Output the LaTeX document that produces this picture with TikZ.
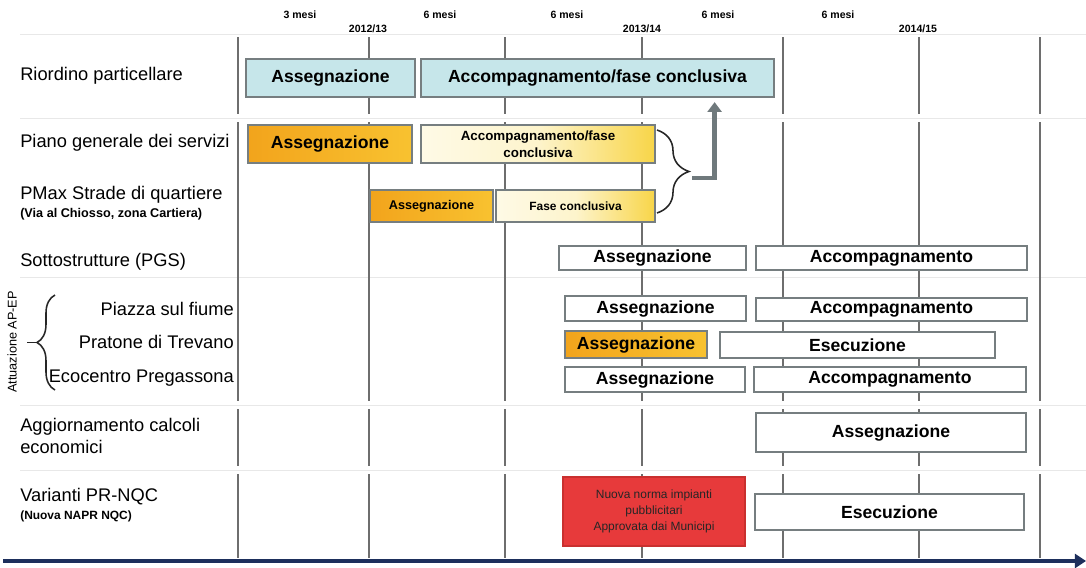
\documentclass[tikz,border=0pt]{standalone}
\usepackage{fontspec}
\setmainfont{Liberation Sans}
\usetikzlibrary{arrows.meta,calc,decorations.pathreplacing}

\definecolor{gridgray}{HTML}{6E6E6E}
\definecolor{boxgray}{HTML}{767E80}
\definecolor{cyanfill}{HTML}{C6E6EA}
\definecolor{orangeA}{HTML}{F2A41C}
\definecolor{orangeB}{HTML}{F8C230}
\definecolor{creamA}{HTML}{FEFAE6}
\definecolor{creamB}{HTML}{F8D548}
\definecolor{creamM}{HTML}{FDF4CC}
\definecolor{redfill}{HTML}{E73A3B}
\definecolor{redline}{HTML}{C9302F}
\definecolor{navy}{HTML}{1D2F5C}
\definecolor{fbgray}{HTML}{6F797C}

\begin{document}
\begin{tikzpicture}[x=0.025cm,y=-0.025cm,
    wh/.style 2 args={minimum width=#1*0.025cm,minimum height=#2*0.025cm},
    bar/.style={draw=boxgray,line width=1.3pt,inner sep=0pt,align=center,
        font=\bfseries\fontsize{12.5}{14}\selectfont},
    cyanbar/.style={bar,fill=cyanfill},
    orangebar/.style={bar,left color=orangeA,right color=orangeB},
    creambar/.style={bar,left color=creamA,right color=creamB,middle color=creamM},
    whitebar/.style={bar,fill=white},
    redbar/.style={bar,fill=redfill,draw=redline,text=black!85,
        font=\fontsize{8.5}{11.5}\selectfont},
    rowlabel/.style={anchor=west,inner sep=0pt,font=\fontsize{13}{16}\selectfont},
    sublabel/.style={anchor=west,inner sep=0pt,font=\bfseries\fontsize{9}{11}\selectfont},
    toplabel/.style={inner sep=0pt,font=\bfseries\fontsize{7.5}{9}\selectfont},
    gridline/.style={draw=gridgray,line width=1.8pt},
    sepline/.style={draw=gray!18,line width=0.6pt},
    bracestyle/.style={draw=black!85,line width=1.1pt},
    feedback/.style={draw=fbgray,line width=3.5pt,-{Triangle[length=7pt,width=10pt]},shorten >=3pt},
    timeline/.style={draw=navy,line width=3pt,-{Triangle[length=8pt,width=10pt]}}]

    \fill[white] (0,0) rectangle (1086,567);
    \useasboundingbox (0,0) rectangle (1086,567);

    % faint row separators and time grid
    \foreach \sy in {34,118,277,405,470}
        \draw[sepline] (20,\sy) -- (1086,\sy);
    \foreach \gx in {238,369,505,642,783,919,1040} {
        \draw[gridline] (\gx,37) -- (\gx,114);
        \draw[gridline] (\gx,122) -- (\gx,401);
        \draw[gridline] (\gx,409) -- (\gx,466);
        \draw[gridline] (\gx,474) -- (\gx,558);
    }

    % header
    \node[toplabel] (m1) at (300,15) {3 mesi};
    \node[toplabel] (m2) at (440,15) {6 mesi};
    \node[toplabel] (m3) at (567,15) {6 mesi};
    \node[toplabel] (m4) at (718,15) {6 mesi};
    \node[toplabel] (m5) at (838,15) {6 mesi};
    \node[toplabel] (y1) at (368,29) {2012/13};
    \node[toplabel] (y2) at (642,29) {2013/14};
    \node[toplabel] (y3) at (918,29) {2014/15};

    % row labels
    \node[rowlabel] (riord)  at (20,76)  {Riordino particellare};
    \node[rowlabel] (piano)  at (20,143) {Piano generale dei servizi};
    \node[rowlabel] (pmax)   at (20,195) {PMax Strade di quartiere};
    \node[sublabel] (pmaxs)  at (20,214) {(Via al Chiosso, zona Cartiera)};
    \node[rowlabel] (pgs)    at (20,262) {Sottostrutture (PGS)};
    \node[rowlabel,anchor=east] (piazza) at (234,309) {Piazza sul fiume};
    \node[rowlabel,anchor=east] (prat)   at (234,342) {Pratone di Trevano};
    \node[rowlabel,anchor=east] (eco)    at (234,378) {Ecocentro Pregassona};
    \node[rowlabel,align=left] (agg)     at (20,436) {Aggiornamento calcoli\\economici};
    \node[rowlabel] (var)    at (20,497) {Varianti PR-NQC};
    \node[sublabel,font=\bfseries\fontsize{8.5}{10}\selectfont] (vars) at (20,516) {(Nuova NAPR NQC)};
    \node[inner sep=0pt,rotate=90,font=\fontsize{9}{11}\selectfont] (attu) at (12,342) {Attuazione AP-EP};

    % bars
    \node[cyanbar,wh={169}{38}]   (riordA)  at (330.5,78)  {Assegnazione};
    \node[cyanbar,wh={353}{38}]   (riordB)  at (597.5,78)  {Accompagnamento/fase conclusiva};
    \node[orangebar,wh={164}{38}] (pianoA)  at (330,144)   {Assegnazione};
    \node[creambar,wh={234}{38},font=\bfseries\fontsize{9.5}{12}\selectfont]
                                  (pianoB)  at (538,144)   {Accompagnamento/fase\\conclusiva};
    \node[orangebar,wh={123}{32},font=\bfseries\fontsize{9}{11}\selectfont]
                                  (pmaxA)   at (431.5,206) {Assegnazione};
    \node[creambar,wh={159}{32},font=\bfseries\fontsize{8.5}{10}\selectfont]
                                  (pmaxB)   at (575.5,206) {Fase conclusiva};
    \node[whitebar,wh={187}{24}]  (pgsA)    at (652.5,258) {Assegnazione};
    \node[whitebar,wh={271}{24}]  (pgsB)    at (891.5,258) {Accompagnamento};
    \node[whitebar,wh={181}{25}]  (piazzaA) at (655.5,308.5) {Assegnazione};
    \node[whitebar,wh={271}{23}]  (piazzaB) at (891.5,309.5) {Accompagnamento};
    \node[orangebar,wh={142}{27}] (pratA)   at (636,344.5) {Assegnazione};
    \node[whitebar,wh={275}{26}]  (pratB)   at (857.5,345) {Esecuzione};
    \node[whitebar,wh={180}{25}]  (ecoA)    at (655,379.5) {Assegnazione};
    \node[whitebar,wh={272}{25}]  (ecoB)    at (890,379.5) {Accompagnamento};
    \node[whitebar,wh={270}{39}]  (aggA)    at (891,432.5) {Assegnazione};
    \node[redbar,wh={182}{69}]    (varA)    at (654,511.5) {Nuova norma impianti\\pubblicitari\\Approvata dai Municipi};
    \node[whitebar,wh={269}{36}]  (varB)    at (889.5,512) {Esecuzione};

    % braces
    \draw[bracestyle,decorate,decoration={brace,amplitude=0.8cm}] (657,130) -- (657,213);
    \draw[bracestyle,decorate,decoration={brace,amplitude=0.45cm}] (55,390) -- (55,295);
    \coordinate (lbtip) at (37,342.5);
    \coordinate (lbend) at (27,342.5);
    \draw[bracestyle] (lbtip) -- (lbend);

    % link to Riordino
    \coordinate (brtip) at (692,178);
    \draw[feedback] (brtip) -| ($(riordB.south west)!0.83!(riordB.south east)$);

    % time axis
    \coordinate (t0) at (3,561);
    \coordinate (t1) at (1086,561);
    \draw[timeline] (t0) -- (t1);
\end{tikzpicture}
\end{document}
